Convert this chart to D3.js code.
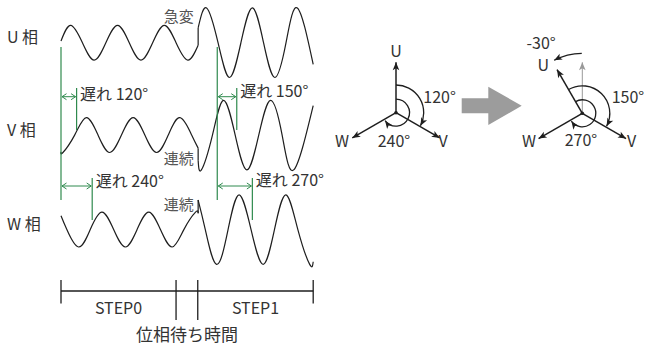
<!DOCTYPE html>
<html><head><meta charset="utf-8">
<script src="https://cdn.jsdelivr.net/npm/d3@7"></script>
<style>
body{margin:0;background:#fff}
text{font-family:"Noto Sans CJK JP","Noto Sans",sans-serif}
</style>
</head><body>
<svg id="c" width="645" height="345"></svg>
<script>
// ---------------- DATA ----------------
// time in electrical degrees from the start of STEP0, value in units of STEP0 amplitude
const phases = ["U", "V", "W"];
const phaseLabels = ["U 相", "V 相", "W 相"];
const jumpT = 1055;
const endT = 1940;

const uBefore = [[0,0.1],[75,1],[165,0],[255,-1],[345,0],[435,1],[525,0],[615,-1],[705,0],[795,1],[885,0],[975,-1],[1055,-0.15]];
const uAfter  = [[1055,0.85],[1120,2],[1208,0],[1296,-2],[1384,0],[1472,2],[1558,0],[1645,-2],[1731,0],[1818,2],[1940,-1.25]];
const vBefore = [[0,-0.96],[15,-1],[105,0],[195,1],[285,0],[375,-1],[465,0],[555,1],[645,0],[735,-1],[825,0],[915,1],[1005,0],[1055,-0.75]];
const vAfter  = [[1055,-1.45],[1080,-2],[1165,0],[1250,2],[1340,0],[1430,-2],[1521,0],[1612,2],[1701,0],[1790,-2],[1940,1.7]];
const wBefore = [[0,0.8],[45,0],[135,-1],[225,0],[315,1],[405,0],[495,-1],[585,0],[675,1],[765,0],[855,-1],[945,0],[1035,1],[1055,0.94]];
const wAfter  = [[1055,1.7],[1110,0],[1197,-2],[1285,0],[1370,2],[1462,0],[1555,-2],[1642,0],[1730,2],[1822,0],[1913,-2],[1940,-1.85]];

const waves = {U:[uBefore,uAfter], V:[vBefore,vAfter], W:[wBefore,wAfter]};
const changeNotes = [{phase:"U", text:"急変"}, {phase:"V", text:"連続"}, {phase:"W", text:"連続"}];

// phase lag markers (reference time, lag in degrees)
const lagMarkers = [
  {ref:0,    lag:120, label:"遅れ 120°", group:"V"},
  {ref:0,    lag:240, label:"遅れ 240°", group:"W"},
  {ref:1202, lag:150, label:"遅れ 150°", group:"V"},
  {ref:1202, lag:270, label:"遅れ 270°", group:"W"}
];

// timeline stages
const stages = [
  {name:"STEP0", t0:0, t1:885},
  {name:"位相待ち時間", t0:885, t1:1052},
  {name:"STEP1", t0:1052, t1:1940}
];

// phasors (angle clockwise from "up", degrees)
const phasor1 = [{name:"U", angle:0}, {name:"V", angle:120}, {name:"W", angle:240}];
const phasor1Arcs = [{from:0, to:120, label:"120°"}, {from:0, to:240, label:"240°"}];
const phasor2 = [{name:"U", angle:-30}, {name:"V", angle:120}, {name:"W", angle:240}];
const phasor2Ghost = [{name:"", angle:0}];
const phasor2Arcs = [{from:-30, to:120, label:"150°"}, {from:-30, to:240, label:"270°"}];
const shiftArc = [{from:0, to:-28, label:"-30°"}];

// ---------------- LAYOUT ----------------
const svg = d3.select("#c");
const x = d3.scaleLinear().domain([0, endT]).range([61, 313.2]);
const rowY = d3.scaleOrdinal().domain(phases).range([42.7, 135.1, 229.6]);
const amp = d3.scaleLinear().domain([-2, 2]).range([34.8, -34.8]);
const ang = d3.scaleLinear().domain([0, 360]).range([0, 2 * Math.PI]);

const GREEN = "#2f8a4e";
const INK = "#1e1e1e";
const TXT = "#333";

const defs = svg.append("defs");
function marker(id, path, color, filled, orient) {
  defs.append("marker").attr("id", id).attr("viewBox", "-10 -5 12 10")
    .attr("refX", 0).attr("refY", 0).attr("markerWidth", 12).attr("markerHeight", 10)
    .attr("markerUnits", "userSpaceOnUse").attr("orient", orient || "auto")
    .append("path").attr("d", path)
    .attr("fill", filled ? color : "none").attr("stroke", filled ? "none" : color)
    .attr("stroke-width", 1);
}
marker("ah", "M0,0 L-8,-3.3 L-6,0 L-8,3.3 Z", INK, true);
marker("ahg", "M0,0 L-8,-3.3 L-6,0 L-8,3.3 Z", "#999", true);
marker("gs", "M-4.5,-3 L0,0 L-4.5,3", GREEN, false, "auto-start-reverse");

// row labels
svg.append("g").selectAll("text").data(phases).join("text")
  .attr("x", 7).attr("y", d => rowY(d) + 0.5)
  .attr("font-size", 16).attr("fill", TXT)
  .text((d, i) => phaseLabels[i]);

// waves
const wline = (p) => d3.line().x(d => x(d[0])).y(d => rowY(p) + amp(d[1])).curve(d3.curveNatural);
const sline = (p) => d3.line().x(d => x(d[0])).y(d => rowY(p) + amp(d[1]));
const wg = svg.append("g").attr("fill", "none").attr("stroke", INK).attr("stroke-width", 1.2);
phases.forEach(p => {
  const [b, a] = waves[p];
  wg.append("path").attr("d", wline(p)(b));
  wg.append("path").attr("d", wline(p)(a));
  wg.append("path").attr("d", sline(p)([b[b.length - 1], a[0]]));
});

// change notes
const noteBase = {U: -20.3, V: 28.8, W: -20};
svg.append("g").selectAll("text").data(changeNotes).join("text")
  .attr("x", x(jumpT) - 4.5).attr("y", d => rowY(d.phase) + noteBase[d.phase])
  .attr("text-anchor", "end").attr("font-size", 15).attr("fill", "#555")
  .text(d => d.text);

// lag markers
const gG = svg.append("g").attr("stroke", GREEN).attr("stroke-width", 1.2);
const refs = Array.from(new Set(lagMarkers.map(d => d.ref)));
gG.selectAll("line.ref").data(refs).join("line").attr("class", "ref")
  .attr("x1", d => x(d)).attr("x2", d => x(d)).attr("y1", 47).attr("y2", 200);
const grp = {V: {y1: 88, y2: 130, ay: 96.7}, W: {y1: 178, y2: 220, ay: 186}};
gG.selectAll("line.lag").data(lagMarkers).join("line").attr("class", "lag")
  .attr("x1", d => x(d.ref + d.lag)).attr("x2", d => x(d.ref + d.lag))
  .attr("y1", d => grp[d.group].y1).attr("y2", d => grp[d.group].y2);
gG.selectAll("line.arr").data(lagMarkers).join("line").attr("class", "arr")
  .attr("x1", d => x(d.ref) + 1).attr("x2", d => x(d.ref + d.lag) - 1)
  .attr("y1", d => grp[d.group].ay).attr("y2", d => grp[d.group].ay)
  .attr("stroke-width", 1)
  .attr("marker-start", "url(#gs)").attr("marker-end", "url(#gs)");
const lagBase = [100, 187, 97, 185.5];
svg.append("g").selectAll("text").data(lagMarkers).join("text")
  .attr("x", d => x(d.ref + d.lag) + 3.5).attr("y", (d, i) => lagBase[i])
  .attr("font-size", 16).attr("fill", TXT).text(d => d.label);

// timeline
const tl = svg.append("g").attr("stroke", INK).attr("stroke-width", 1.3);
tl.append("line").attr("x1", x(0)).attr("x2", x(endT)).attr("y1", 291).attr("y2", 291);
const bounds = [0, 885, 1052, 1940];
tl.selectAll("line.tk").data(bounds).join("line").attr("class", "tk")
  .attr("x1", d => x(d)).attr("x2", d => x(d)).attr("y1", 280)
  .attr("y2", (d, i) => (i === 1 || i === 2) ? 320 : 303.5);
svg.append("g").selectAll("text").data(stages).join("text")
  .attr("x", d => x((d.t0 + d.t1) / 2))
  .attr("y", (d, i) => i === 1 ? 341 : 313.5)
  .attr("text-anchor", "middle")
  .attr("font-size", (d, i) => i === 1 ? 17 : 16)
  .attr("fill", TXT).text(d => d.name);

// phasors
function vecEnd(cx, cy, a, r) {
  const t = ang(a);
  return [cx + r * Math.sin(t), cy - r * Math.cos(t)];
}
function arcPath(cx, cy, r, a0, a1) {
  const p = d3.path();
  const s = vecEnd(cx, cy, a0, r);
  p.moveTo(s[0], s[1]);
  p.arc(cx, cy, r, ang(a0) - Math.PI / 2, ang(a1) - Math.PI / 2, a1 < a0);
  return p.toString();
}
function drawPhasor(cx, cy, vecs, arcs, radii, ghost, cfg) {
  const g = svg.append("g");
  if (ghost) {
    g.selectAll("line.gh").data(ghost).join("line").attr("class", "gh")
      .attr("x1", cx).attr("y1", cy)
      .attr("x2", d => vecEnd(cx, cy, d.angle, 51)[0]).attr("y2", d => vecEnd(cx, cy, d.angle, 51)[1])
      .attr("stroke", "#999").attr("stroke-width", 1).attr("marker-end", "url(#ahg)");
  }
  g.selectAll("line.v").data(vecs).join("line").attr("class", "v")
    .attr("x1", cx).attr("y1", cy)
    .attr("x2", d => vecEnd(cx, cy, d.angle, 50.5)[0]).attr("y2", d => vecEnd(cx, cy, d.angle, 50.5)[1])
    .attr("stroke", INK).attr("stroke-width", 1.5).attr("marker-end", "url(#ah)");
  g.selectAll("path.a").data(arcs).join("path").attr("class", "a")
    .attr("d", (d, i) => arcPath(cx, cy, radii[i], d.from, d.to - (i === 0 ? 2 : 6)))
    .attr("fill", "none").attr("stroke", INK).attr("stroke-width", 1.3).attr("marker-end", "url(#ah)");
  g.append("circle").attr("cx", cx).attr("cy", cy).attr("r", 1.8).attr("fill", INK);
  g.selectAll("text.vl").data(vecs).join("text").attr("class", "vl")
    .attr("x", d => cx + cfg[d.name][0]).attr("y", d => cy + cfg[d.name][1])
    .attr("text-anchor", "middle").attr("font-size", 16).attr("fill", TXT).text(d => d.name);
  g.selectAll("text.al").data(arcs).join("text").attr("class", "al")
    .attr("x", (d, i) => cx + cfg.arcs[i][0]).attr("y", (d, i) => cy + cfg.arcs[i][1])
    .attr("text-anchor", (d, i) => cfg.arcs[i][2]).attr("font-size", 16).attr("fill", TXT).text(d => d.label);
  return g;
}
drawPhasor(396, 112.7, phasor1, phasor1Arcs, [27.7, 13.5], null,
  {U: [0, -56], V: [47, 34], W: [-54, 34], arcs: [[27.3, -9.4, "start"], [-2, 34, "middle"]]});
const p2 = drawPhasor(582.3, 113.3, phasor2, phasor2Arcs, [27.5, 13.5], phasor2Ghost,
  {U: [-39, -42.5], V: [49.4, 34], W: [-53.3, 34], arcs: [[29.4, -10, "start"], [-1.3, 33, "middle"]]});
p2.selectAll("path.s").data(shiftArc).join("path").attr("class", "s")
  .attr("d", d => arcPath(582.3, 113.3, 60, d.from - 0.5, d.to))
  .attr("fill", "none").attr("stroke", INK).attr("stroke-width", 1.2).attr("marker-end", "url(#ah)");
p2.selectAll("text.s").data(shiftArc).join("text").attr("class", "s")
  .attr("x", 526.5).attr("y", 48.5).attr("font-size", 16).attr("fill", TXT).text(d => d.label);

// big gray arrow
const ga = d3.path();
ga.moveTo(461.7, 98.3); ga.lineTo(488.3, 98.3); ga.lineTo(488.3, 86.7); ga.lineTo(521.7, 105.8);
ga.lineTo(488.3, 125); ga.lineTo(488.3, 113.3); ga.lineTo(461.7, 113.3); ga.closePath();
svg.append("path").attr("d", ga.toString()).attr("fill", "#9c9c9c");
</script>
</body></html>
